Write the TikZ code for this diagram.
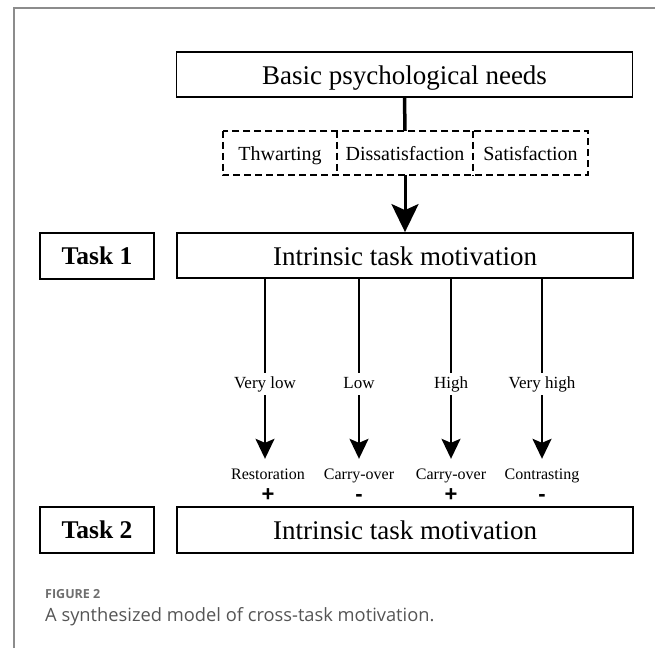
\documentclass[tikz,border=0pt]{standalone}
\usepackage{fontspec}
\setmainfont{Liberation Serif}
\newfontfamily\signfont{Liberation Sans}
\newfontfamily\capfont{Open Sans}
\usetikzlibrary{arrows.meta}
\definecolor{framecol}{HTML}{8C8C8C}
\definecolor{capcol}{HTML}{555555}
\definecolor{figcol}{HTML}{6E6E6E}
\begin{document}
\begin{tikzpicture}[x=1pt,y=-1pt,
  box/.style={draw, line width=1.8pt, inner sep=0pt, anchor=center},
  bigbox/.style={box, minimum width=456pt, text height=19pt, text depth=0pt, font=\fontsize{27}{30}\selectfont},
  taskbox/.style={box, minimum width=114pt, text height=18pt, text depth=1pt, font=\fontsize{25.5}{30}\selectfont\bfseries},
  dcell/.style={inner sep=0pt, minimum height=44pt, text height=15pt, text depth=0pt,
               font=\fontsize{20}{24}\selectfont},
  dline/.style={dash pattern=on 7pt off 4pt, line width=1.8pt},
  lvl/.style={inner xsep=2pt, inner ysep=3pt, text height=12pt, text depth=4pt,
              font=\fontsize{17}{20}\selectfont},
  eff/.style={inner xsep=1pt, inner ysep=9pt, text height=11pt, text depth=4pt,
              font=\fontsize{16}{19}\selectfont},
  sgn/.style={anchor=base, inner sep=0pt, font=\fontsize{22}{24}\signfont\bfseries},
  stem/.style={line width=3.5pt},
  bigarrow/.style={line width=3pt, -{Stealth[length=28pt, width=27pt, inset=6pt]}},
  thin/.style={line width=2pt},
  arr/.style={line width=2pt, -{Stealth[length=20pt, width=19pt, inset=4pt]}}
]
\useasboundingbox (0,0) rectangle (655,648);
\draw[framecol, line width=2pt] (14,648) -- (14,8) -- (655,8);

\node[bigbox, minimum height=45pt] (basic) at (404.5,74.5) {Basic psychological needs};

\node[dcell, minimum width=114pt] (thw) at (280,153) {Thwarting};
\node[dcell, minimum width=136pt] (dis) at (405,153) {Dissatisfaction};
\node[dcell, minimum width=115pt] (sat) at (530.5,153) {Satisfaction};
\draw[dline] (thw.north west) rectangle (sat.south east);
\draw[dline] (thw.north east) -- (thw.south east);
\draw[dline] (sat.north west) -- (sat.south west);

\node[bigbox, minimum height=45pt] (int1) at (405,255.5) {Intrinsic task motivation};
\node[taskbox, minimum height=46pt] (task1) at (97,256) {Task 1};

\draw[stem] (basic.south) -- (dis.north);
\draw[bigarrow] (dis.south) -- (int1.north);

\node[lvl] (vl) at (265,384) {Very low};
\node[lvl] (lo) at (359,384) {Low};
\node[lvl] (hi) at (451,384) {High};
\node[lvl] (vh) at (542,384) {Very high};

\node[eff] (r1) at (268,475.5) {Restoration};
\node[eff] (r2) at (359,475.5) {Carry-over};
\node[eff] (r3) at (451,475.5) {Carry-over};
\node[eff] (r4) at (542,475.5) {Contrasting};

\foreach \a/\b in {vl/r1, lo/r2, hi/r3, vh/r4}{
  \draw[thin] (int1.south -| \a.north) -- (\a.north);
  \draw[arr] (\a.south) -- (\a.south |- \b.north);
}

\node[sgn] (s1) at (268,501) {+};
\node[sgn] (s2) at (359,501) {-};
\node[sgn] (s3) at (451,501) {+};
\node[sgn] (s4) at (542,501) {-};

\node[bigbox, minimum height=46pt] (int2) at (405,530) {Intrinsic task motivation};
\node[taskbox, minimum height=46pt] (task2) at (97,530) {Task 2};

\node[anchor=base west, inner sep=0pt, text=figcol, font=\fontsize{12.5}{14}\capfont\bfseries] (fig) at (45,598) {FIGURE 2};
\node[anchor=base west, inner sep=0pt, text=capcol, font=\fontsize{18.3}{22}\capfont] (cap) at (45,621) {A synthesized model of cross-task motivation.};
\end{tikzpicture}
\end{document}
